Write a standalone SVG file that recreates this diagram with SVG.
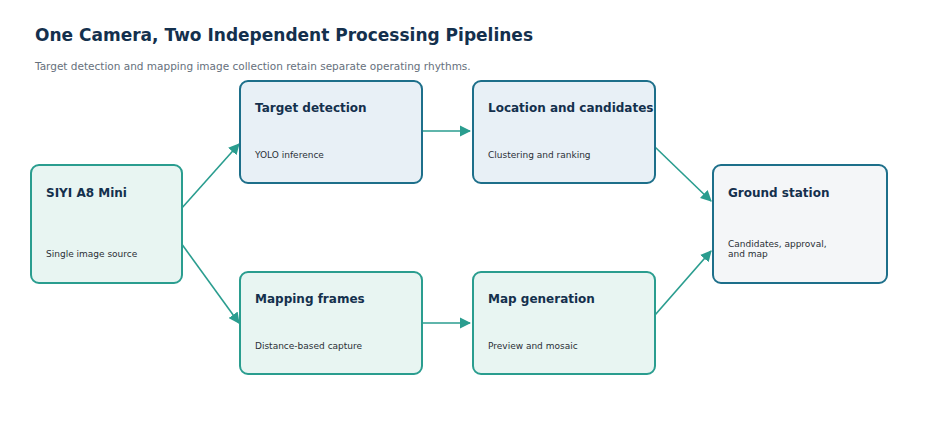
<svg xmlns="http://www.w3.org/2000/svg" width="945" height="444" viewBox="0 0 945 444">
<style>
text{font-family:"DejaVu Sans",sans-serif}
.t{font-size:12px;font-weight:bold;fill:#14304d}
.s{font-size:9px;fill:#2a2f36}
.g{fill:#e8f5f2;stroke:#2a9d8f;stroke-width:2}
.b{fill:#e8f0f6;stroke:#1d6f8a;stroke-width:2}
.w{fill:#f4f6f8;stroke:#1d6f8a;stroke-width:2}
.c{stroke:#2a9d8f;stroke-width:1.6;fill:none;marker-end:url(#a)}
</style>
<defs><marker id="a" viewBox="0 0 10 10" refX="9" refY="5" markerWidth="7" markerHeight="7" orient="auto"><path d="M0,0L10,5L0,10z" fill="#2a9d8f"/></marker></defs>
<rect width="945" height="444" fill="#fff"/>
<text x="35" y="41" style="font-size:17px;font-weight:bold;fill:#14304d">One Camera, Two Independent Processing Pipelines</text>
<text x="35" y="70" style="font-size:10.5px;fill:#66707c">Target detection and mapping image collection retain separate operating rhythms.</text>
<g id="connectors">
<path class="c" d="M181,209L239,144"/>
<path class="c" d="M181,243L239,323"/>
<path class="c" d="M422,131L470,131"/>
<path class="c" d="M422,323L470,323"/>
<path class="c" d="M655,147L711,201"/>
<path class="c" d="M655,315L711,251"/>
</g>
<g id="siyi"><rect class="g" x="31" y="165" width="151" height="118" rx="8"/><text class="t" x="46" y="197">SIYI A8 Mini</text><text class="s" x="46" y="257">Single image source</text></g>
<g id="target"><rect class="b" x="240" y="81" width="182" height="102" rx="8"/><text class="t" x="255" y="112">Target detection</text><text class="s" x="255" y="158">YOLO inference</text></g>
<g id="location"><rect class="b" x="473" y="81" width="182" height="102" rx="8"/><text class="t" x="488" y="112">Location and candidates</text><text class="s" x="488" y="158">Clustering and ranking</text></g>
<g id="mapping"><rect class="g" x="240" y="272" width="182" height="102" rx="8"/><text class="t" x="255" y="303">Mapping frames</text><text class="s" x="255" y="349">Distance-based capture</text></g>
<g id="mapgen"><rect class="g" x="473" y="272" width="182" height="102" rx="8"/><text class="t" x="488" y="303">Map generation</text><text class="s" x="488" y="349">Preview and mosaic</text></g>
<g id="ground"><rect class="w" x="713" y="165" width="174" height="118" rx="8"/><text class="t" x="728" y="197">Ground station</text><text class="s" x="728" y="247">Candidates, approval,</text><text class="s" x="728" y="257">and map</text></g>
</svg>
